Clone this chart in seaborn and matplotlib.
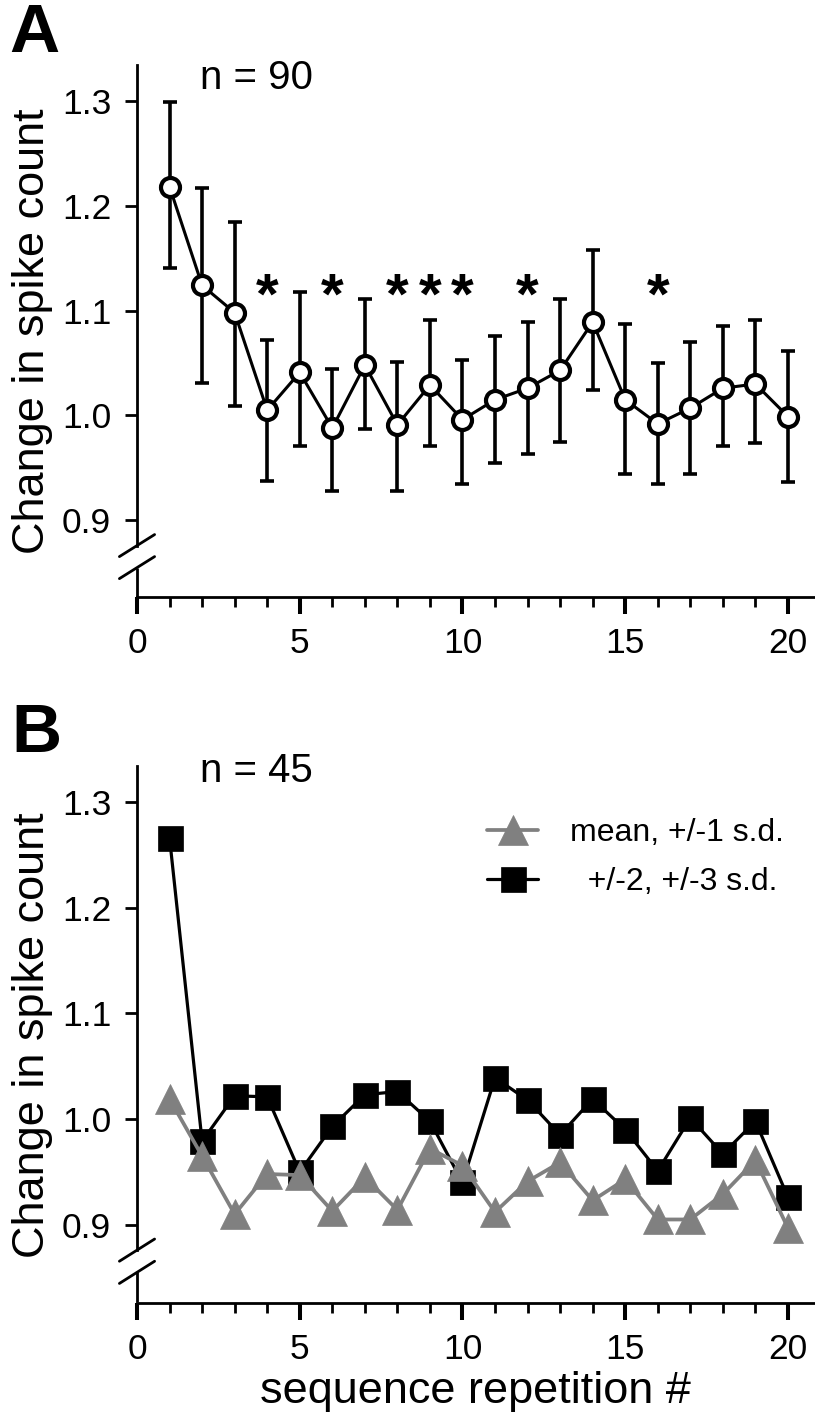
import matplotlib
matplotlib.use("Agg")
import matplotlib.pyplot as plt
import seaborn as sns
from matplotlib.ticker import MultipleLocator

# Data
reps = list(range(1, 21))

# panel A: mean change in spike count with error bars (n = 90)
mean_a = [1.218, 1.124, 1.098, 1.005, 1.041, 0.988, 1.048, 0.991, 1.029, 0.996,
          1.015, 1.026, 1.043, 1.089, 1.015, 0.992, 1.007, 1.026, 1.030, 0.999]
upper_a = [1.299, 1.217, 1.184, 1.072, 1.118, 1.044, 1.111, 1.051, 1.091, 1.053,
           1.076, 1.089, 1.111, 1.158, 1.087, 1.050, 1.070, 1.085, 1.091, 1.061]
lower_a = [1.141, 1.031, 1.009, 0.938, 0.971, 0.928, 0.987, 0.928, 0.971, 0.935,
           0.955, 0.963, 0.975, 1.024, 0.944, 0.935, 0.944, 0.971, 0.974, 0.937]
sig_reps = [4, 6, 8, 9, 10, 12, 16]

# panel B: two groups (n = 45)
label_sd1 = "mean, +/-1 s.d."
label_sd23 = "  +/-2, +/-3 s.d."
mean_sd1 = [1.019, 0.965, 0.910, 0.948, 0.947, 0.913, 0.945, 0.914, 0.972, 0.956,
            0.912, 0.941, 0.959, 0.923, 0.943, 0.905, 0.905, 0.929, 0.961, 0.897]
mean_sd23 = [1.266, 0.979, 1.022, 1.021, 0.950, 0.993, 1.023, 1.026, 0.998, 0.940,
             1.039, 1.018, 0.985, 1.019, 0.990, 0.951, 1.001, 0.967, 0.998, 0.926]

y_ticks = [0.9, 1.0, 1.1, 1.2, 1.3]

sns.set_style("ticks")
plt.rcParams['font.family'] = ['Liberation Sans', 'DejaVu Sans']
plt.rcParams.update({'text.color': 'black', 'axes.labelcolor': 'black',
                     'xtick.color': 'black', 'ytick.color': 'black',
                     'axes.edgecolor': 'black'})

W, H = 815, 1421
fig = plt.figure(figsize=(W / 100, H / 100), dpi=100)

ax_a = fig.add_axes([137 / W, 1 - 597 / H, 677 / W, 532 / H])
ax_b = fig.add_axes([137 / W, 1 - 1303 / H, 677 / W, 536 / H])

gray = '#808080'


def style_axis(ax):
    ax.set_xlim(0, 20.8)
    ax.set_ylim(0.827, 1.334)
    ax.set_yticks(y_ticks)
    ax.set_yticklabels([f"{t:.1f}" for t in y_ticks])
    ax.xaxis.set_major_locator(MultipleLocator(5))
    ax.xaxis.set_minor_locator(MultipleLocator(1))
    for s in ['top', 'right']:
        ax.spines[s].set_visible(False)
    for s in ['left', 'bottom']:
        ax.spines[s].set_linewidth(2)
    ax.tick_params(axis='y', which='major', length=8.6, width=2, pad=10, labelsize=25.5)
    ax.tick_params(axis='x', which='major', length=12.5, width=2.9, pad=9, labelsize=25.5)
    ax.tick_params(axis='x', which='minor', length=7.2, width=2)
    ax.xaxis.get_major_ticks()[0].tick1line.set_visible(False)
    ax.set_ylabel("Change in spike count", fontsize=32.5)
    ax.yaxis.set_label_coords(-0.124, 0.5)

    # broken y axis
    y_hi_break, y_lo_break = 0.876, 0.855
    ylo, yhi = ax.get_ylim()
    ax.spines['left'].set_bounds(y_hi_break, yhi)
    tr = ax.get_yaxis_transform()
    ax.plot([0, 0], [ylo, y_lo_break], transform=tr, color='black', lw=2,
            clip_on=False, solid_capstyle='butt')
    for yv in (y_hi_break, y_lo_break):
        ax.plot([-0.026, 0.026], [yv - 0.0105, yv + 0.0105], transform=tr,
                color='black', lw=2, clip_on=False)


# Panel A
err_lo = [m - l for m, l in zip(mean_a, lower_a)]
err_hi = [u - m for m, u in zip(mean_a, upper_a)]
ax_a.errorbar(reps, mean_a, yerr=[err_lo, err_hi], fmt='none', ecolor='black',
              elinewidth=2.6, capsize=4.8, capthick=2.6, zorder=1)
sns.lineplot(x=reps, y=mean_a, ax=ax_a, color='black', lw=2.2, marker='o',
             markersize=13.7, markerfacecolor='white', markeredgecolor='black',
             markeredgewidth=3, zorder=3)
for r in sig_reps:
    ax_a.text(r, 1.097, '*', ha='center', va='baseline', fontsize=42,
              fontweight='bold')
style_axis(ax_a)
ax_a.set_xlabel("")

# Panel B
sns.lineplot(x=reps, y=mean_sd23, ax=ax_b, color='black', lw=2.3, marker='s',
             markersize=18, markerfacecolor='black', markeredgecolor='black',
             markeredgewidth=0.5, label=label_sd23, zorder=3)
sns.lineplot(x=reps, y=mean_sd1, ax=ax_b, color=gray, lw=2.7, marker='^',
             markersize=21.5, markerfacecolor=gray, markeredgecolor=gray,
             markeredgewidth=0.5, label=label_sd1, zorder=4)
style_axis(ax_b)
ax_b.set_ylim(0.826, 1.333)
ax_b.set_xlabel("sequence repetition #", fontsize=32.5, labelpad=4)

handles, labels = ax_b.get_legend_handles_labels()
ax_b.legend(handles[::-1], labels[::-1], loc='upper left',
            bbox_to_anchor=(487 / W, 1 - 818 / H), bbox_transform=fig.transFigure,
            frameon=False, fontsize=23, handlelength=1.6, handletextpad=1.0,
            labelspacing=0.6, borderpad=0, borderaxespad=0)

# annotations
fig.text(200 / W, 1 - 89 / H, "n = 90", fontsize=29, va='baseline')
fig.text(200 / W, 1 - 782 / H, "n = 45", fontsize=29, va='baseline')
fig.text(9 / W, 1 - 52 / H, "A", fontsize=50, fontweight='bold', va='baseline')
fig.text(11 / W, 1 - 752 / H, "B", fontsize=50, fontweight='bold', va='baseline')

fig.savefig("out.png", dpi=100)
